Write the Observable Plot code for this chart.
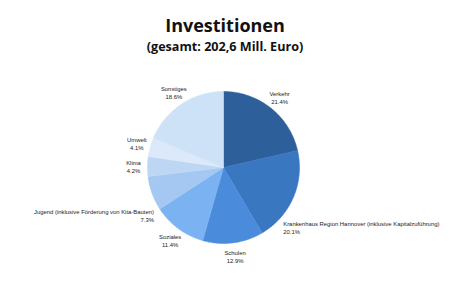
<!DOCTYPE html>
<html>
<head>
<meta charset="utf-8">
<script src="https://cdn.jsdelivr.net/npm/d3@7"></script>
<script src="https://cdn.jsdelivr.net/npm/@observablehq/plot@0.6"></script>
<style>
  html, body { margin: 0; padding: 0; background: #ffffff; }
  #chart svg { display: block; }
</style>
</head>
<body>
<div id="chart"></div>
<script>
// ---- data ----
const titleText = "Investitionen";
const subtitleText = "(gesamt: 202,6 Mill. Euro)";
const categories = [
  "Verkehr",
  "Krankenhaus Region Hannover (inklusive Kapitalzuführung)",
  "Schulen",
  "Soziales",
  "Jugend (inklusive Förderung von Kita-Bauten)",
  "Klima",
  "Umwelt",
  "Sonstiges"
];
const shares = [21.4, 20.1, 12.9, 11.4, 7.3, 4.2, 4.1, 18.6];
const percentLabels = ["21.4%", "20.1%", "12.9%", "11.4%", "7.3%", "4.2%", "4.1%", "18.6%"];
const sliceColors = ["#2d5f9b", "#3a77c1", "#4a8cdb", "#7ab2f2", "#a4c8f1", "#bcd6f4", "#dbe9fa", "#cde1f7"];

// ---- layout (not data) ----
const W = 449, H = 299;
const cx = 223, cy = 167, R = 76, labelR = 90;
const labelAnchor = ["middle", "start", "middle", "middle", "end", "middle", "middle", "middle"];
const labelNudge = [[0, 0], [-23, 24], [0, 0], [0, 0], [15, 17], [0, 0], [0, 0], [0, 0]];

// ---- geometry from data ----
const pie = d3.pie().sort(null).value(d => d)(shares);
const polys = [];
pie.forEach((p, i) => {
  const n = Math.max(2, Math.ceil((p.endAngle - p.startAngle) / (Math.PI / 180)));
  polys.push({name: categories[i], color: sliceColors[i], x: cx, y: cy});
  for (let k = 0; k <= n; k++) {
    const a = p.startAngle + (p.endAngle - p.startAngle) * k / n;
    polys.push({name: categories[i], color: sliceColors[i], x: cx + R * Math.sin(a), y: cy - R * Math.cos(a)});
  }
  polys.push({name: categories[i], color: sliceColors[i], x: cx, y: cy});
});
const labels = pie.map((p, i) => {
  const a = (p.startAngle + p.endAngle) / 2;
  return {
    text: categories[i] + "\n" + percentLabels[i],
    x: cx + labelR * Math.sin(a) + labelNudge[i][0],
    y: cy - labelR * Math.cos(a) + labelNudge[i][1],
    anchor: labelAnchor[i]
  };
});

const labelFont = "'Liberation Sans', Arial, sans-serif";

const chart = Plot.plot({
  width: W,
  height: H,
  margin: 0,
  style: {background: "#ffffff"},
  x: {domain: [0, W], range: [0, W], axis: null},
  y: {domain: [0, H], range: [0, H], axis: null},
  color: {type: "identity"},
  marks: [
    Plot.line(polys, {x: "x", y: "y", z: "name", fill: "color", stroke: "color", strokeWidth: 0.5, curve: "linear"}),
    ...["start", "middle", "end"].map(anc =>
      Plot.text(labels.filter(d => d.anchor === anc), {
        x: "x", y: "y", text: "text", textAnchor: anc,
        fontSize: 5.9, lineHeight: 1.35, fill: "#222", fontFamily: labelFont
      })
    ),
    Plot.text([titleText], {frameAnchor: "top", dy: 19, fontSize: 18, fontWeight: "bold", fill: "#111", fontFamily: "'Open Sans', sans-serif"}),
    Plot.text([subtitleText], {frameAnchor: "top", dy: 42, fontSize: 12.6, fontWeight: "bold", fill: "#111", fontFamily: "'Open Sans', sans-serif"})
  ]
});
document.getElementById("chart").append(chart);
</script>
</body>
</html>
